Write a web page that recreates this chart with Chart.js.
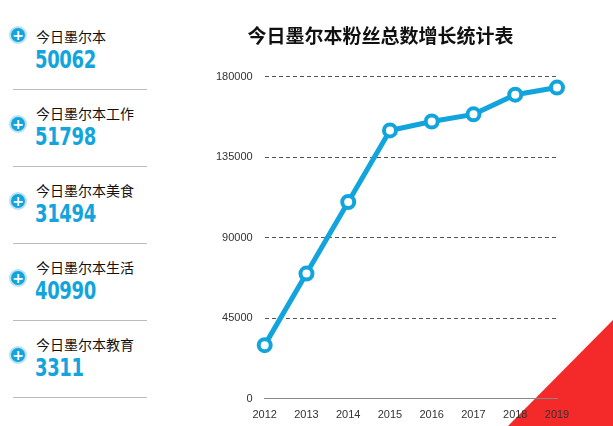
<!DOCTYPE html>
<html><head><meta charset="utf-8">
<script src="https://cdn.jsdelivr.net/npm/chart.js@4/dist/chart.umd.min.js"></script>
<style>
body{margin:0;width:613px;height:426px;background:#fff;position:relative;overflow:hidden;font-family:"Noto Sans CJK SC",sans-serif}
#tri{position:absolute;left:0;top:0;width:613px;height:426px;background:#f42a2a;clip-path:polygon(613px 320px,613px 426px,508px 426px);z-index:0}
#wrap{position:absolute;left:180px;top:0;width:433px;height:426px;z-index:1}
.lbl{position:absolute;left:36px;font-size:14px;color:#111;white-space:nowrap}
.num{position:absolute;left:35px;font-family:"DejaVu Sans",sans-serif;font-weight:bold;font-size:25px;color:#12a4dc;transform:scaleX(0.72);transform-origin:left top;letter-spacing:-0.5px}
.ic{position:absolute;left:9px;width:14px;height:14px;border-radius:50%;background:#12a4dc;border:2px solid #b8e2f2;color:#fff;font:bold 14px/14px "DejaVu Sans";text-align:center}
.hr{position:absolute;left:13px;width:134px;height:1px;background:#bbb}
</style></head><body>
<div id="tri"></div>
<div id="side"></div>
<div id="wrap"><canvas id="c" width="433" height="426"></canvas></div>
<script>
const sideLabels=["今日墨尔本","今日墨尔本工作","今日墨尔本美食","今日墨尔本生活","今日墨尔本教育"];
const sideNumbers=["50062","51798","31494","40990","3311"];
const years=["2012","2013","2014","2015","2016","2017","2018","2019"];
const fans=[30000,70000,110000,150000,155000,159000,170000,174000];
const yTicks=[0,45000,90000,135000,180000];

const side=document.getElementById('side');
sideLabels.forEach((l,i)=>{
  const t=26+i*77;
  side.innerHTML+=`<div class="lbl" style="top:${t}px">${l}</div>
  <div class="num" style="top:${t+19}px">${sideNumbers[i]}</div>
  <div class="ic" style="top:${t+(i==0?0:12)}px">+</div>
  <div class="hr" style="top:${t+63}px"></div>`;
});

new Chart(document.getElementById('c'),{
  type:'line',
  data:{labels:years,datasets:[{data:fans,borderColor:'#12a4dc',borderWidth:5,pointRadius:6,pointBorderWidth:4,pointBackgroundColor:'#fff',pointBorderColor:'#12a4dc',tension:0}]},
  options:{responsive:false,animation:false,devicePixelRatio:1,
    layout:{padding:{left:24,right:56,top:0,bottom:2}},
    plugins:{legend:{display:false},tooltip:{enabled:false},
      title:{display:true,text:'今日墨尔本粉丝总数增长统计表',font:{size:19,family:'"Noto Sans CJK SC"',weight:'bold'},color:'#111',padding:{top:24,bottom:30}}},
    scales:{
      x:{offset:false,grid:{display:false},border:{display:true,color:'#888'},ticks:{color:'#333',font:{size:11},padding:2,maxRotation:0,autoSkip:false}},
      y:{min:0,max:180000,afterBuildTicks:a=>{a.ticks=yTicks.map(v=>({value:v}))},
        grid:{color:'#555',lineWidth:1,drawTicks:false},border:{display:false,dash:[4,3]},
        ticks:{color:'#333',font:{size:11},padding:12,callback:v=>String(v)}}
    }}
});
</script></body></html>
